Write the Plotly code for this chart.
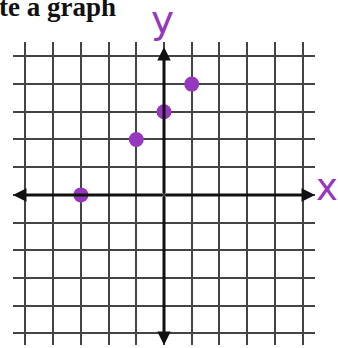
import plotly.graph_objects as go

# Plotted points (line y = x + 3)
point_x = [-3, -1, 0, 1]
point_y = [0, 2, 3, 4]

# Grid extent (integer grid lines)
grid_min, grid_max = -5, 5
x_range = [-5.45, 5.45]
y_range = [-5.42, 5.52]

W, H = 338, 348
ML, MR, MT, MB = 13, 23, 42, 3
PW, PH = W - ML - MR, H - MT - MB

purple = "#9638BE"


def px_x(px):
    return (px - ML) / PW


def px_y(py):
    return (H - MB - py) / PH


fig = go.Figure()

fig.add_trace(go.Scatter(
    x=point_x, y=point_y, mode="markers",
    marker=dict(size=15, color=purple, line=dict(width=0)),
    hoverinfo="skip", showlegend=False,
))

# Axes with arrowheads at both ends
for tip_x, tip_y in [(x_range[0], 0), (x_range[1], 0), (0, 5.34), (0, -5.42)]:
    fig.add_annotation(
        x=tip_x, y=tip_y, ax=0, ay=0, xref="x", yref="y", axref="x", ayref="y",
        showarrow=True, arrowhead=2, arrowsize=0.9, arrowwidth=3,
        arrowcolor="#111111", text="",
    )

# Axis letters
fig.add_annotation(text="y", xref="paper", yref="paper", x=px_x(162), y=px_y(19),
                   xanchor="center", yanchor="middle", showarrow=False,
                   font=dict(family="DejaVu Sans", size=39, color=purple))
fig.add_annotation(text="x", xref="paper", yref="paper", x=px_x(327), y=px_y(188),
                   xanchor="center", yanchor="middle", showarrow=False,
                   font=dict(family="DejaVu Sans", size=37, color=purple))

# Heading
fig.add_annotation(text="<b>te a graph</b>", xref="paper", yref="paper",
                   x=px_x(118), y=px_y(7), xanchor="right", yanchor="middle",
                   showarrow=False,
                   font=dict(family="Liberation Serif", size=27, color="#111111"))

axis_common = dict(
    tickmode="linear", dtick=1, showticklabels=False, ticks="",
    showgrid=True, gridcolor="#444444", gridwidth=2,
    zeroline=False, showline=False, fixedrange=True,
)
fig.update_xaxes(range=x_range, tick0=grid_min, **axis_common)
fig.update_yaxes(range=y_range, tick0=grid_min, **axis_common)

fig.update_layout(
    width=W, height=H,
    margin=dict(l=ML, r=MR, t=MT, b=MB),
    paper_bgcolor="white", plot_bgcolor="white",
    showlegend=False,
)

fig.write_html("out.html")
